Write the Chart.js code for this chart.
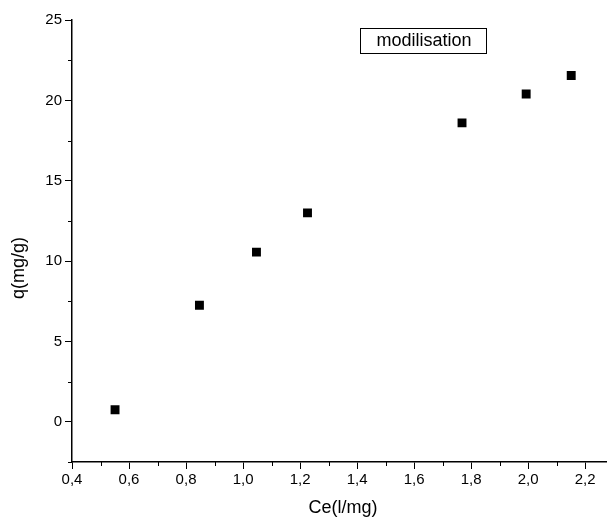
<!DOCTYPE html>
<html>
<head>
<meta charset="utf-8">
<script src="https://cdn.jsdelivr.net/npm/chart.js@4/dist/chart.umd.min.js"></script>
<style>
  html, body { margin: 0; padding: 0; background: #fff; overflow: hidden; }
  #wrap { width: 607px; height: 528px; overflow: hidden; }
</style>
</head>
<body>
<div id="wrap"><canvas id="qeChart" width="620" height="528"></canvas></div>
<script>
// Ce (l/mg) et q (mg/g)
const ceValues = [0.551, 0.847, 1.047, 1.226, 1.768, 1.993, 2.151];
const qValues = [0.75, 7.25, 10.56, 13.0, 18.6, 20.4, 21.55];
const xTicks = [0.4, 0.6, 0.8, 1.0, 1.2, 1.4, 1.6, 1.8, 2.0, 2.2];
const yTicks = [0, 5, 10, 15, 20, 25];
const seriesLabel = 'modilisation';
const xTitle = 'Ce(l/mg)';
const yTitle = 'q(mg/g)';

const fontFamily = 'Arial, "Liberation Sans", sans-serif';

// petites graduations, titres des axes, cadre de la légende
const extras = {
    id: 'extras',
    afterDraw(chart) {
        const ctx = chart.ctx;
        const xs = chart.scales.x, ys = chart.scales.y;
        const area = chart.chartArea;
        ctx.save();
        ctx.strokeStyle = '#000';
        ctx.lineWidth = 1;
        ctx.beginPath();
        for (let i = 0; i < xTicks.length; i++) {
            const px = Math.round(xs.getPixelForValue(xTicks[i] + 0.1)) + 0.5;
            if (px > area.right) continue;
            ctx.moveTo(px, area.bottom);
            ctx.lineTo(px, area.bottom + 4);
        }
        const yMinor = [-2.5].concat(yTicks.slice(0, -1).map(v => v + 2.5));
        yMinor.forEach(v => {
            const py = Math.round(ys.getPixelForValue(v)) + 0.5;
            ctx.moveTo(area.left, py);
            ctx.lineTo(area.left - 4, py);
        });
        ctx.stroke();

        ctx.fillStyle = '#000';
        ctx.textAlign = 'center';
        ctx.textBaseline = 'middle';
        ctx.font = '18px ' + fontFamily;
        ctx.fillText(xTitle, 343, 508);
        ctx.save();
        ctx.translate(19, 268);
        ctx.rotate(-Math.PI / 2);
        ctx.fillText(yTitle, 0, 0);
        ctx.restore();

        // légende
        ctx.fillText(seriesLabel, 424, 41);
        ctx.strokeRect(360.5, 28.5, 126, 25);
        ctx.restore();
    }
};

new Chart(document.getElementById('qeChart'), {
    type: 'scatter',
    data: {
        datasets: [{
            label: seriesLabel,
            data: ceValues.map((x, i) => ({ x: x, y: qValues[i] })),
            pointStyle: 'rect',
            pointRadius: 6.3,
            pointHoverRadius: 6.3,
            backgroundColor: '#000',
            borderColor: '#000',
            borderWidth: 0
        }]
    },
    options: {
        responsive: false,
        animation: false,
        layout: { padding: { top: 20, right: 0, left: 0, bottom: 0 } },
        plugins: {
            legend: { display: false },
            tooltip: { enabled: false }
        },
        scales: {
            x: {
                type: 'linear',
                min: 0.4,
                max: 2.3,
                afterBuildTicks: (scale) => { scale.ticks = xTicks.map(v => ({ value: v })); },
                afterFit: (scale) => { scale.height = 66; },
                ticks: {
                    color: '#000',
                    font: { family: fontFamily, size: 15 },
                    padding: 2,
                    maxRotation: 0,
                    callback: (v) => Number(v).toFixed(1).replace('.', ',')
                },
                grid: { drawOnChartArea: false, drawTicks: true, tickLength: 7, color: '#000' },
                border: { display: true, color: '#000', width: 1.5 }
            },
            y: {
                type: 'linear',
                min: -2.5,
                max: 25,
                afterBuildTicks: (scale) => { scale.ticks = yTicks.map(v => ({ value: v })); },
                afterFit: (scale) => { scale.width = 72; },
                ticks: {
                    color: '#000',
                    font: { family: fontFamily, size: 15 },
                    padding: 3,
                    callback: (v) => String(v)
                },
                grid: { drawOnChartArea: false, drawTicks: true, tickLength: 7, color: '#000' },
                border: { display: true, color: '#000', width: 1.5 }
            }
        }
    },
    plugins: [extras]
});
</script>
</body>
</html>
